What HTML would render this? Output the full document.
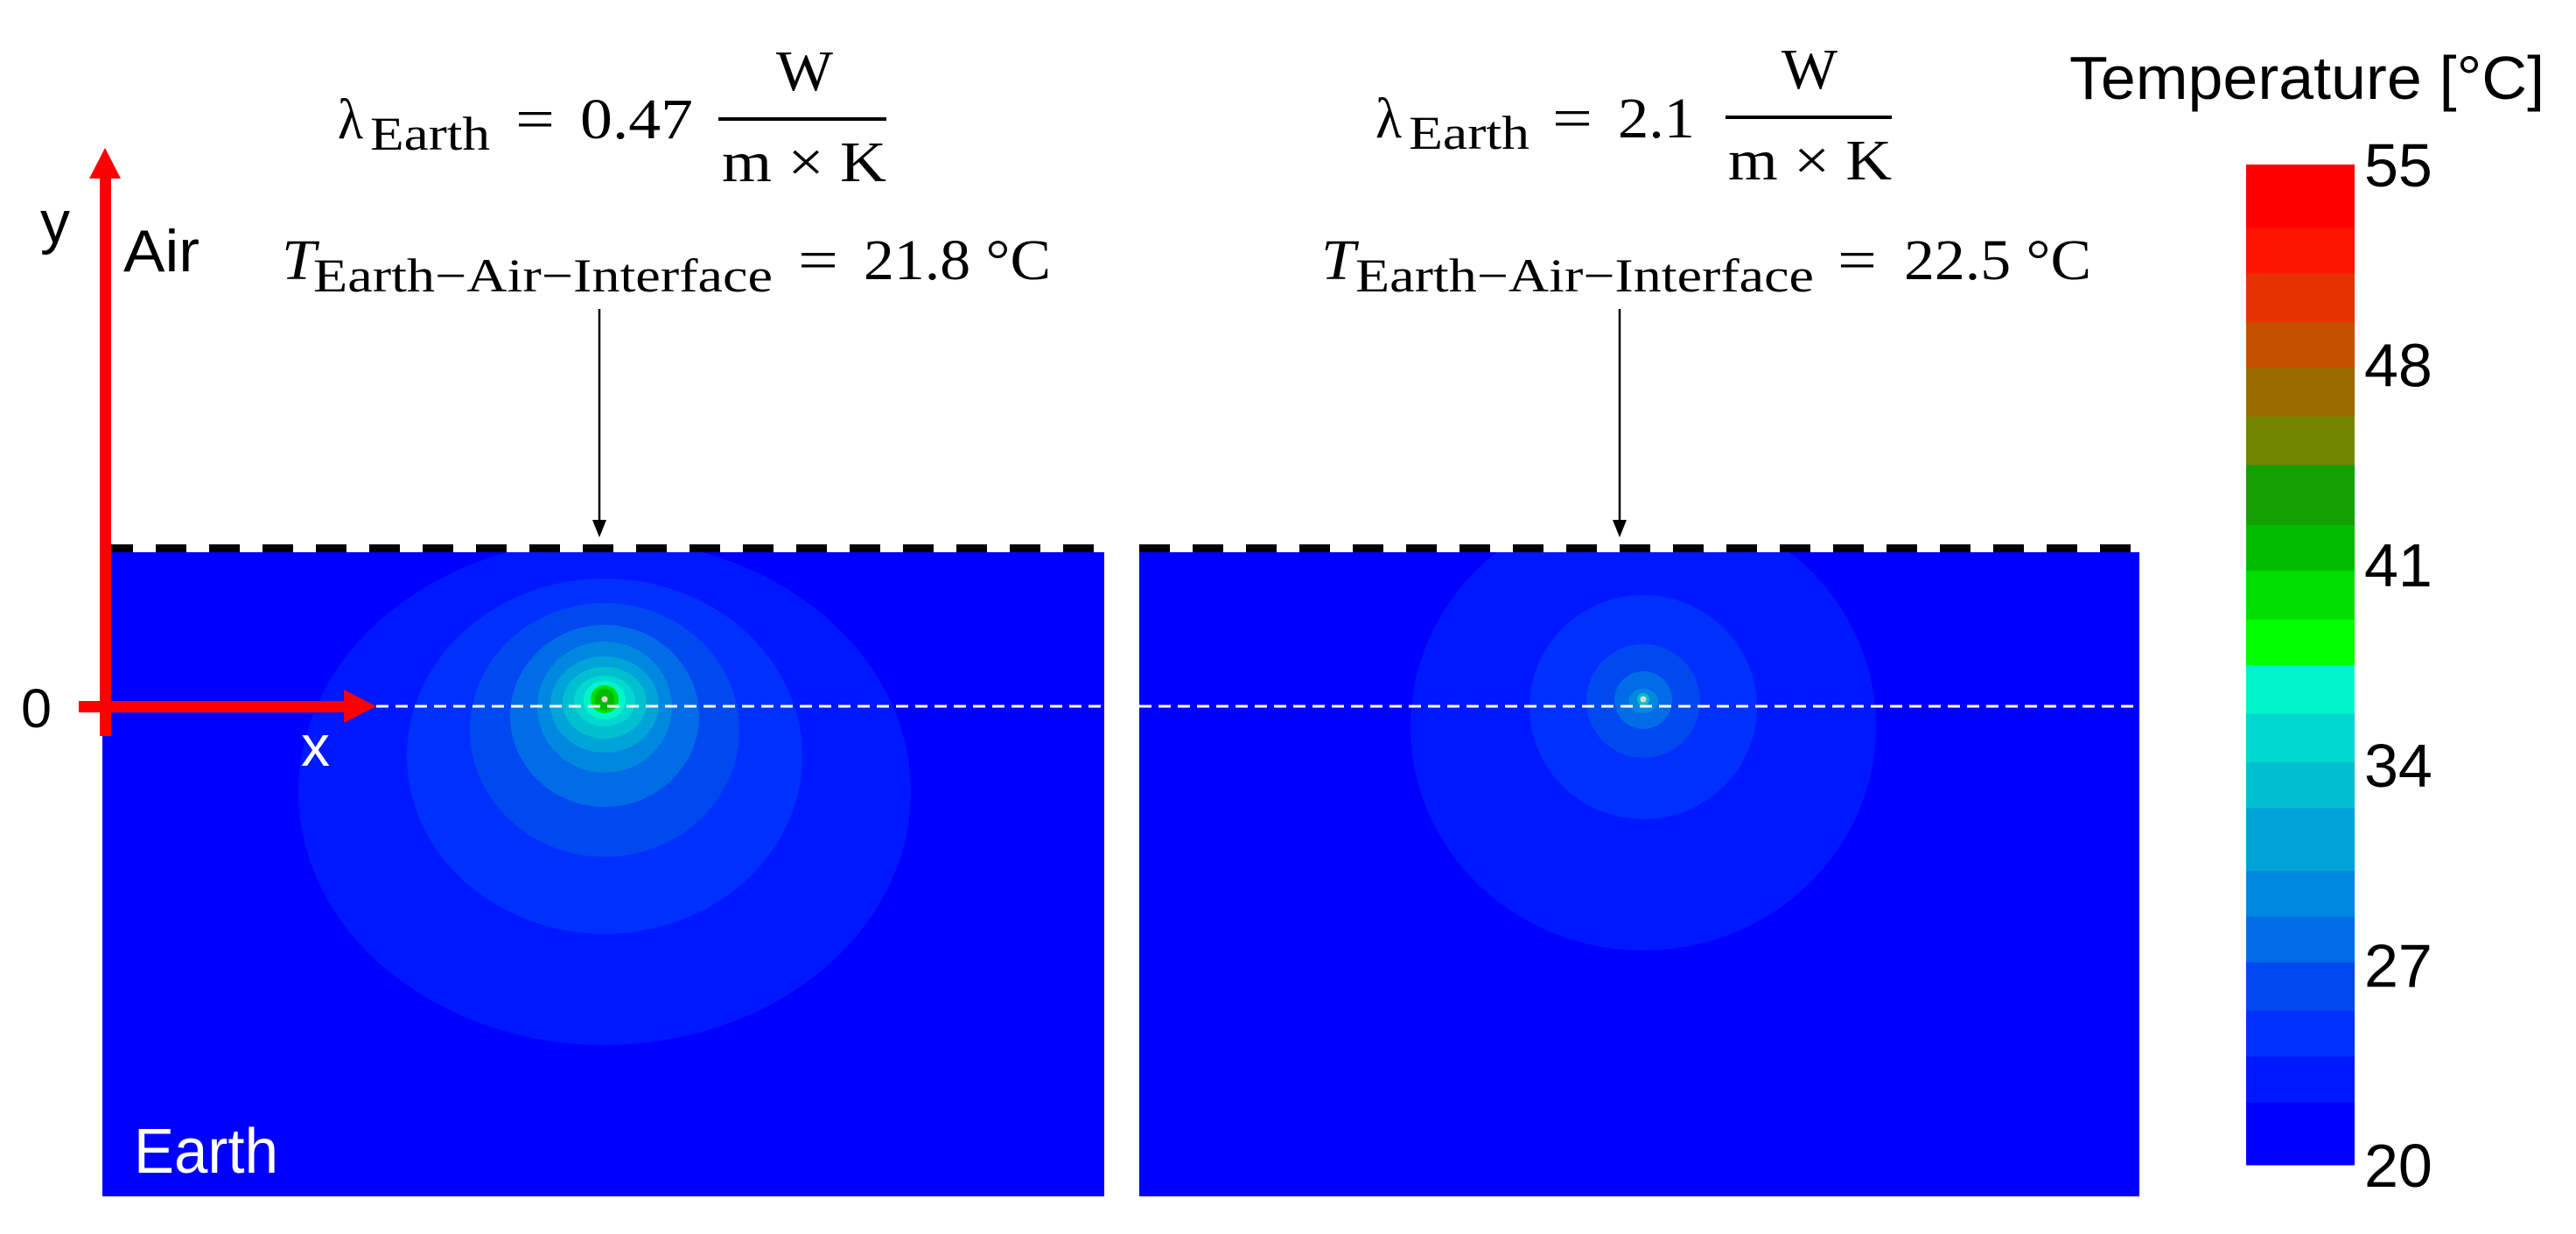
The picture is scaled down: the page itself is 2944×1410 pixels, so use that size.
<!DOCTYPE html>
<html><head><meta charset="utf-8"><style>
html,body{margin:0;padding:0;background:#fff;}
svg{display:block;}
</style></head><body>
<svg id="fig" xmlns="http://www.w3.org/2000/svg" width="2944" height="1410" viewBox="0 0 2944 1410">
<rect width="2944" height="1410" fill="#fff"/>
<g id="panels"></g>
<g id="colorbar"></g>
<g font-family="'Liberation Serif', serif" fill="#000">
  <g>
    <text x="386" y="158" font-size="66" textLength="29" lengthAdjust="spacingAndGlyphs">λ</text>
    <text x="423" y="171" font-size="54" textLength="137" lengthAdjust="spacingAndGlyphs">Earth</text>
    <text x="589" y="158" font-size="66" textLength="45" lengthAdjust="spacingAndGlyphs">=</text>
    <text x="663" y="158" font-size="66" textLength="129" lengthAdjust="spacingAndGlyphs">0.47</text>
    <text x="887" y="103" font-size="66" textLength="65" lengthAdjust="spacingAndGlyphs">W</text>
    <rect x="821" y="134" width="192" height="4"/>
    <text x="825" y="207" font-size="66" textLength="188" lengthAdjust="spacingAndGlyphs">m × K</text>
  </g>
  <g>
    <text x="322" y="319" font-size="66" font-style="italic" textLength="39" lengthAdjust="spacingAndGlyphs">T</text>
    <text x="358" y="333" font-size="54" textLength="525" lengthAdjust="spacingAndGlyphs">Earth−Air−Interface</text>
    <text x="912" y="319" font-size="66" textLength="46" lengthAdjust="spacingAndGlyphs">=</text>
    <text x="987" y="319" font-size="66" textLength="214" lengthAdjust="spacingAndGlyphs">21.8 °C</text>
  </g>
  <g>
    <text x="1572" y="157" font-size="66" textLength="30" lengthAdjust="spacingAndGlyphs">λ</text>
    <text x="1610" y="170" font-size="54" textLength="138" lengthAdjust="spacingAndGlyphs">Earth</text>
    <text x="1774" y="157" font-size="66" textLength="46" lengthAdjust="spacingAndGlyphs">=</text>
    <text x="1849" y="157" font-size="66" textLength="88" lengthAdjust="spacingAndGlyphs">2.1</text>
    <text x="2036" y="101" font-size="66" textLength="64" lengthAdjust="spacingAndGlyphs">W</text>
    <rect x="1972" y="132" width="190" height="4"/>
    <text x="1975" y="205" font-size="66" textLength="187" lengthAdjust="spacingAndGlyphs">m × K</text>
  </g>
  <g>
    <text x="1510" y="319" font-size="66" font-style="italic" textLength="39" lengthAdjust="spacingAndGlyphs">T</text>
    <text x="1549" y="333" font-size="54" textLength="524" lengthAdjust="spacingAndGlyphs">Earth−Air−Interface</text>
    <text x="2100" y="319" font-size="66" textLength="45" lengthAdjust="spacingAndGlyphs">=</text>
    <text x="2176" y="319" font-size="66" textLength="214" lengthAdjust="spacingAndGlyphs">22.5 °C</text>
  </g>
</g>
<g>
  <line x1="685" y1="353" x2="685" y2="596" stroke="#000" stroke-width="2.5"/>
  <polygon points="677,594 693,594 685,614" fill="#000"/>
</g>
<g>
  <line x1="1851" y1="353" x2="1851" y2="596" stroke="#000" stroke-width="2.5"/>
  <polygon points="1843,594 1859,594 1851,614" fill="#000"/>
</g>
<g font-family="'Liberation Sans', Arial, sans-serif">
  <text x="2365" y="113" font-size="70" textLength="543" lengthAdjust="spacingAndGlyphs">Temperature [°C]</text>
  <text x="46" y="277" font-size="68">y</text>
  <text x="141" y="310" font-size="68" textLength="87" lengthAdjust="spacingAndGlyphs">Air</text>
  <text x="24" y="831" font-size="63">0</text>
</g>
<g id="overlay"></g>
</svg>
<script>
// Colorbar data
const bandColors = ['#0000FF','#0018FF','#0030FF','#0048F0','#006CE8','#0088E0','#00A4D8','#00C0D0','#00D8D0','#00F5C8','#00FF00','#00DD00','#00BB00','#13A000','#748500','#9C6B00','#C45000','#E63200','#FF1400','#FF0000'];
const bandEdges = [20,22.2,23.8,25.4,27.1,28.7,30.3,32.5,34.1,35.8,37.5,39.1,40.8,42.4,44.5,46.2,47.9,49.5,51.2,52.8,55];
const tickValues = [20,27,34,41,48,55];
const tickLabels = ['20','27','34','41','48','55'];
// Contour data: band index, semi-axes (x, y) and vertical centre offset
const leftLevels = [1,2,3,4,5,6,7,8,9,11,12];
const leftRx = [350,226,154,108,77,62,48,35,24,16,11];
const leftRy = [289,203,145,104,75,55,41,29,22,16,12];
const leftDy = [106,65,35,19,9,6,4,2,1,0,0];
const rightLevels = [1,2,3,4,5,7];
const rightRx = [266,130,65,33,17,7];
const rightRy = [256,128,65,33,14,7];
const rightDy = [31,9,2,1,2,0];

const NS = 'http://www.w3.org/2000/svg';
function mk(tag, attrs, parent){const e=document.createElementNS(NS,tag);for(const k in attrs)e.setAttribute(k,attrs[k]);parent.appendChild(e);return e;}

const cbX=2567, cbW=124, cbTop=188, cbBot=1331;
function yT(v){return cbBot-(v-20)/(55-20)*(cbBot-cbTop);}
const cb=document.getElementById('colorbar');
bandColors.forEach((c,i)=>{
  const r=mk('rect',{x:cbX,y:yT(bandEdges[i+1]),width:cbW,height:yT(bandEdges[i])-yT(bandEdges[i+1])+0.5,fill:c},cb);
  
  
});
tickValues.forEach((v,i)=>{
  const t=mk('text',{x:2702,y:yT(v)+25,'font-size':70,'font-family':"'Liberation Sans', Arial, sans-serif"},cb);
  t.textContent=tickLabels[i];
  
  
});

const panels=document.getElementById('panels');
function panel(x0,x1,srcX,srcY,lineY,levels,rx,ry,dy,name){
  const g=mk('g',{},panels);
  
  
  const id='clip'+x0;
  const cp=mk('clipPath',{id:id},g);
  mk('rect',{x:x0,y:631,width:x1-x0,height:736},cp);
  const bg=mk('rect',{x:x0,y:631,width:x1-x0,height:736,fill:'#0000FF'},g);
  
  
  const cg=mk('g',{'clip-path':'url(#'+id+')'},g);
  levels.forEach((lv,i)=>{
    const e=mk('ellipse',{cx:srcX,cy:srcY+dy[i],rx:rx[i],ry:ry[i],fill:bandColors[lv]},cg);
    
    
  });
  const s=mk('circle',{cx:srcX,cy:srcY,r:3.5,fill:'#ffd0d0'},g);
  
  
  const d=mk('line',{x1:x0,y1:626.5,x2:x1-6,y2:626.5,stroke:'#000','stroke-width':9,'stroke-dasharray':'35 26'},g);
  
  
  const w=mk('line',{x1:(x0<200?430:x0),y1:lineY,x2:x1,y2:lineY,stroke:'#fff','stroke-width':3,'stroke-dasharray':'14 8'},g);
  
  
}
panel(117,1262,691,799,807,leftLevels,leftRx,leftRy,leftDy,'panel-low-conductivity');
panel(1302,2445,1878,799,807,rightLevels,rightRx,rightRy,rightDy,'panel-high-conductivity');

const ov=document.getElementById('overlay');
const ya=mk('g',{},ov);


mk('rect',{x:114,y:200,width:13,height:641,fill:'#FF0000'},ya);
mk('polygon',{points:'102,204 138,204 120,169',fill:'#FF0000'},ya);
const xa=mk('g',{},ov);


mk('rect',{x:90,y:801,width:306,height:13,fill:'#FF0000'},xa);
mk('polygon',{points:'393,788 393,826 430,807',fill:'#FF0000'},xa);
const xl=mk('text',{x:344,y:875,'font-size':66,fill:'#fff','font-family':"'Liberation Sans', Arial, sans-serif"},ov);
xl.textContent='x';


const el=mk('text',{x:153,y:1340,'font-size':72,fill:'#fff','font-family':"'Liberation Sans', Arial, sans-serif",textLength:165,lengthAdjust:'spacingAndGlyphs'},ov);
el.textContent='Earth';


</script>
</body></html>
